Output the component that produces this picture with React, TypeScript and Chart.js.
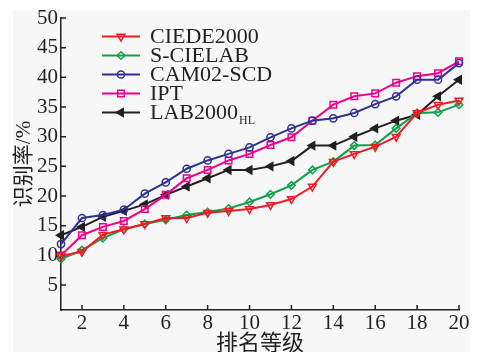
import React, { useEffect, useRef } from 'react';
import { Chart, registerables } from 'chart.js';
import { drawPoint } from 'chart.js/helpers';

Chart.register(...registerables);

// ---- data ----
const ranks = [1, 2, 3, 4, 5, 6, 7, 8, 9, 10, 11, 12, 13, 14, 15, 16, 17, 18, 19, 20];
const ciede2000 = [9.9, 10.6, 13.5, 14.4, 15.3, 16.3, 16.3, 17.2, 17.5, 17.8, 18.5, 19.5, 21.6, 25.8, 27.1, 28.3, 30.0, 34.0, 35.4, 36.1];
const sCielab = [9.4, 10.9, 12.9, 14.4, 15.3, 16.0, 16.8, 17.3, 17.9, 19.0, 20.3, 21.8, 24.4, 25.8, 28.5, 28.6, 31.4, 34.0, 34.1, 35.4];
const cam02Scd = [11.9, 16.3, 16.8, 17.7, 20.4, 22.3, 24.6, 26.0, 27.1, 28.2, 29.9, 31.4, 32.7, 33.1, 34.0, 35.5, 36.8, 39.6, 39.6, 42.4];
const ipt = [10.0, 13.4, 14.8, 15.8, 17.8, 20.2, 23.0, 24.4, 26.0, 27.1, 28.6, 29.9, 32.7, 35.4, 36.8, 37.3, 39.1, 40.2, 40.7, 42.7];
const lab2000hl = [13.4, 14.8, 16.5, 17.5, 18.6, 20.2, 21.6, 23.0, 24.4, 24.4, 25.0, 25.9, 28.5, 28.5, 30.0, 31.4, 32.7, 33.7, 36.8, 39.6];

const seriesNames = ['CIEDE2000', 'S-CIELAB', 'CAM02-SCD', 'IPT', 'LAB2000'];
const seriesSubscripts = ['', '', '', '', 'HL'];
const xTickValues = [2, 4, 6, 8, 10, 12, 14, 16, 18, 20];
const yTickValues = [5, 10, 15, 20, 25, 30, 35, 40, 45, 50];
const xTitle = '排名等级';
const yTitle = '识别率/%';

// ---- styles ----
const INK = '#231f20';
const FONT = "'Liberation Serif', 'Noto Sans CJK SC', serif";
const colors = ['#ee1c25', '#0ea04b', '#2e3192', '#ec008c', '#231f20'];
const pointStyles = ['triangle', 'rectRot', 'circle', 'rect', 'triangle'];
const pointRotations = [180, 0, 0, 0, 270];
const pointRadii = [4.5, 3.8, 3.6, 4.6, 4.5];
const pointFills = ['rgba(0,0,0,0)', 'rgba(0,0,0,0)', 'rgba(0,0,0,0)', 'rgba(0,0,0,0)', '#231f20'];

const inwardTicks = {
  id: 'inwardTicks',
  beforeDatasetsDraw(chart: any) {
    const ctx = chart.ctx;
    const area = chart.chartArea;
    const xs = chart.scales.x;
    const ys = chart.scales.y;
    ctx.save();
    ctx.strokeStyle = INK;
    ctx.lineWidth = 1.5;
    ctx.beginPath();
    ys.ticks.forEach((t: any) => {
      const py = ys.getPixelForValue(t.value);
      ctx.moveTo(area.left, py);
      ctx.lineTo(area.left + 5, py);
    });
    xs.ticks.forEach((t: any) => {
      const px = xs.getPixelForValue(t.value);
      ctx.moveTo(px, area.bottom);
      ctx.lineTo(px, area.bottom - 5);
    });
    ctx.stroke();
    ctx.restore();
  },
};

const customLegend = {
  id: 'customLegend',
  afterDatasetsDraw(chart: any) {
    const ctx = chart.ctx;
    const lineX0 = 102;
    const lineX1 = 140;
    const textX = 150;
    const rowTop = 36.5;
    const rowStep = 19;
    ctx.save();
    chart.data.datasets.forEach((ds: any, i: number) => {
      const yy = rowTop + i * rowStep;
      ctx.strokeStyle = ds.borderColor;
      ctx.lineWidth = 2;
      ctx.beginPath();
      ctx.moveTo(lineX0, yy);
      ctx.lineTo(lineX1, yy);
      ctx.stroke();
      ctx.fillStyle = ds.pointBackgroundColor;
      ctx.strokeStyle = ds.pointBorderColor;
      ctx.lineWidth = ds.pointBorderWidth;
      drawPoint(ctx, {
        pointStyle: ds.pointStyle,
        rotation: ds.pointRotation,
        radius: ds.pointRadius,
        borderWidth: ds.pointBorderWidth,
      } as any, (lineX0 + lineX1) / 2, yy);
      ctx.fillStyle = INK;
      ctx.textBaseline = 'middle';
      ctx.textAlign = 'left';
      ctx.font = `22px ${FONT}`;
      const name = seriesNames[i];
      ctx.fillText(name, textX, yy + 1);
      const sub = seriesSubscripts[i];
      if (sub) {
        const w = ctx.measureText(name).width;
        ctx.font = `12px ${FONT}`;
        ctx.fillText(sub, textX + w + 1, yy + 8);
      }
    });
    ctx.restore();
  },
};

export default function App() {
  const canvasRef = useRef<HTMLCanvasElement | null>(null);

  useEffect(() => {
    if (!canvasRef.current) return;
    const seriesValues = [ciede2000, sCielab, cam02Scd, ipt, lab2000hl];
    const chart = new Chart(canvasRef.current, {
      type: 'line',
      data: {
        datasets: seriesValues.map((vals, i) => ({
          label: seriesNames[i] + seriesSubscripts[i],
          data: ranks.map((r, j) => ({ x: r, y: vals[j] })),
          borderColor: colors[i],
          backgroundColor: colors[i],
          borderWidth: 2,
          pointStyle: pointStyles[i] as any,
          pointRotation: pointRotations[i],
          pointRadius: pointRadii[i],
          pointBorderWidth: 1.5,
          pointBorderColor: colors[i],
          pointBackgroundColor: pointFills[i],
          tension: 0,
          clip: false as any,
        })),
      },
      options: {
        animation: false,
        responsive: false,
        maintainAspectRatio: false,
        layout: { padding: { top: 18, right: 25, bottom: 0, left: 0 } },
        plugins: {
          legend: { display: false },
          tooltip: { enabled: false },
        },
        scales: {
          x: {
            type: 'linear',
            min: 1,
            max: 20,
            afterBuildTicks: (scale: any) => {
              scale.ticks = xTickValues.map((v) => ({ value: v }));
            },
            afterFit: (scale: any) => {
              scale.height = 42;
            },
            grid: { display: false, drawTicks: false },
            border: { display: true, color: INK, width: 1.5 },
            ticks: {
              color: INK,
              font: { family: FONT, size: 21 },
              padding: 1,
              maxRotation: 0,
              autoSkip: false,
            },
            title: {
              display: true,
              text: xTitle,
              color: INK,
              font: { family: FONT, size: 22, lineHeight: 1 },
              padding: { top: 0, bottom: -3 },
            },
          },
          y: {
            type: 'linear',
            min: 0.8,
            max: 50,
            afterBuildTicks: (scale: any) => {
              scale.ticks = yTickValues.map((v) => ({ value: v }));
            },
            afterFit: (scale: any) => {
              scale.width = 61;
            },
            grid: { display: false, drawTicks: false },
            border: { display: true, color: INK, width: 1.5 },
            ticks: {
              color: INK,
              font: { family: FONT, size: 21 },
              padding: 3,
              autoSkip: false,
            },
            title: {
              display: true,
              text: yTitle,
              color: INK,
              font: { family: FONT, size: 21, lineHeight: 1.2 },
              padding: { top: 12, bottom: 0 },
            },
          },
        },
      },
      plugins: [inwardTicks, customLegend],
    });
    return () => chart.destroy();
  }, []);

  return (
    <div style={{ position: 'fixed', left: 0, top: 0, width: 484, height: 352, background: '#ffffff' }}>
      <div style={{ position: 'absolute', left: 13, top: 10, width: 457, height: 342, background: '#f7f7f7' }} />
      <canvas
        ref={canvasRef}
        width={484}
        height={352}
        style={{ position: 'absolute', left: 0, top: 0, width: 484, height: 352 }}
      />
    </div>
  );
}
